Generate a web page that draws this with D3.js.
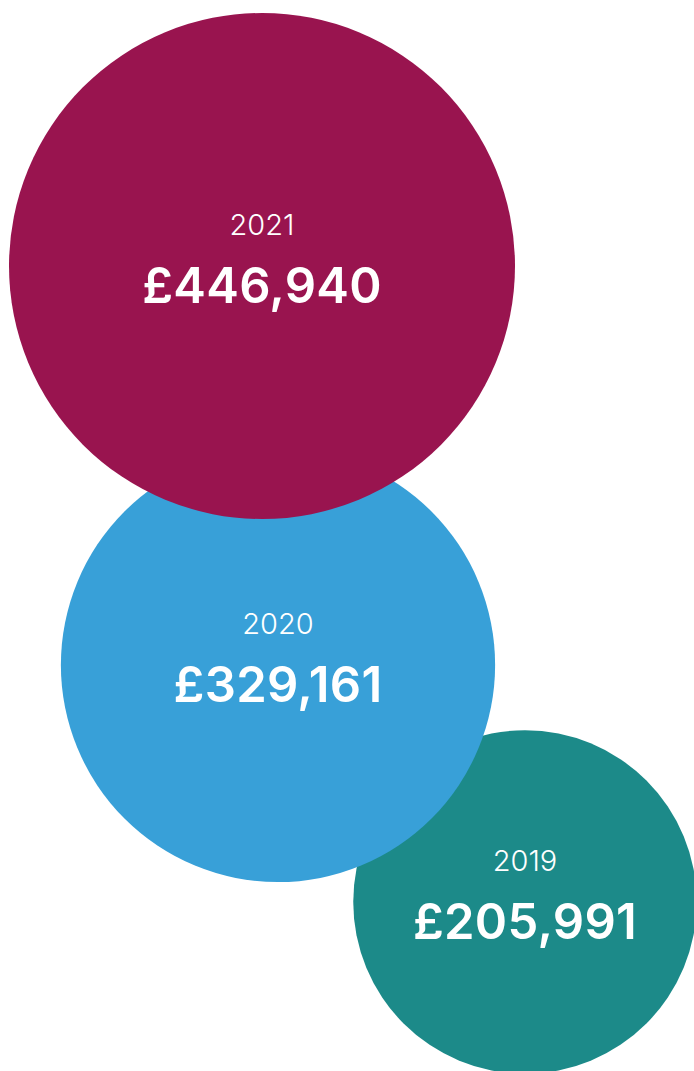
<!DOCTYPE html>
<html>
<head>
<meta charset="utf-8">
<script src="https://cdn.jsdelivr.net/npm/d3@7"></script>
<style>
	body { margin: 0; background: #fff; }
	svg { display: block; }
</style>
</head>
<body>
<div id="chart"></div>
<script>
// Data
var years = ["2019", "2020", "2021"];
var amounts = [205991, 329161, 446940];
var colours = ["#1c8a89", "#38a0d8", "#99144f"];

// Layout: circle centres (drawing order = years order, later on top)
var centres = {
	"2019": [525, 902],
	"2020": [278, 665],
	"2021": [262, 266]
};

var width = 694, height = 1071;

var svg = d3.select("#chart").append("svg")
	.attr("width", width)
	.attr("height", height);

// area-proportional radius
var mapR = d3.scaleSqrt().domain([0, d3.max(amounts)]).range([0, 253]);
var fmt = d3.format(",");

var g = svg.selectAll("g.bubble")
	.data(years.map((y, i) => ({ year: y, value: amounts[i], colour: colours[i] })))
	.enter().append("g")
	.attr("class", "bubble")
	.attr("transform", d => `translate(${centres[d.year][0]}, ${centres[d.year][1]})`);

g.append("circle")
	.attr("r", d => mapR(d.value))
	.attr("fill", d => d.colour);

g.append("text")
	.text(d => d.year)
	.attr("y", -31)
	.attr("text-anchor", "middle")
	.attr("fill", "#fff")
	.style("font-family", "Inter, 'Open Sans', sans-serif")
	.style("font-weight", 300)
	.style("font-size", "29px");

g.append("text")
	.text(d => "£" + fmt(d.value))
	.attr("y", 37)
	.attr("text-anchor", "middle")
	.attr("fill", "#fff")
	.style("font-family", "Inter, 'Open Sans', sans-serif")
	.style("font-weight", 600)
	.style("font-size", "49px")
	.style("letter-spacing", "0.3px");
</script>
</body>
</html>
